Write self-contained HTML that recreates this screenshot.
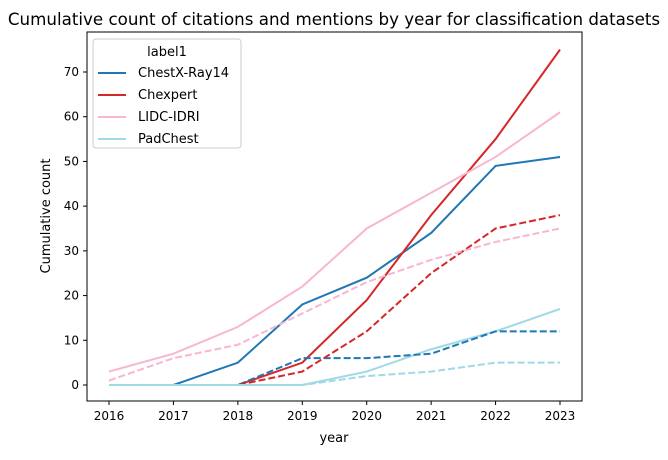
<!DOCTYPE html>
<html><head><meta charset="utf-8"><style>
body{margin:0;background:#fff;font-family:"Liberation Sans","DejaVu Sans",sans-serif}
svg text{font-family:"DejaVu Sans","Liberation Sans",sans-serif}
</style></head><body>
<svg id="c" width="668" height="455">
<text x="334" y="25" text-anchor="middle" font-size="16.7">Cumulative count of citations and mentions by year for classification datasets</text>
<rect x="87" y="32" width="495" height="369" fill="none" stroke="#000" stroke-width="1"/>
<g id="ax"></g><g id="lines"></g>
<text x="334" y="442" text-anchor="middle" font-size="13">year</text>
<text transform="translate(50,216) rotate(-90)" text-anchor="middle" font-size="13">Cumulative count</text>
<g>
<rect x="93" y="39" width="148" height="109" rx="3" fill="#fff" stroke="#ccc"/>
<text x="167" y="56" text-anchor="middle" font-size="13">label1</text>
<g id="leg"></g></g>
</svg>
<script>
const years=[2016,2017,2018,2019,2020,2021,2022,2023];
const yTicks=[0,10,20,30,40,50,60,70];
const names=["ChestX-Ray14","Chexpert","LIDC-IDRI","PadChest"];
const colors=["#1f77b4","#d62728","#f7b6d2","#9edae5"];
const solidChestX=[0,0,5,18,24,34,49,51];
const dashChestX=[0,0,0,6,6,7,12,12];
const solidChexpert=[0,0,0,5,19,38,55,75];
const dashChexpert=[0,0,0,3,12,25,35,38];
const solidLIDC=[3,7,13,22,35,43,51,61];
const dashLIDC=[1,6,9,16,23,28,32,35];
const solidPad=[0,0,0,0,3,8,12,17];
const dashPad=[0,0,0,0,2,3,5,5];
const NS="http://www.w3.org/2000/svg";
const X=y=>109+(y-2016)*(560-109)/7;
const Y=v=>385-v*(385-72)/70;
function mk(t,a,p){const e=document.createElementNS(NS,t);for(const k in a)e.setAttribute(k,a[k]);p.appendChild(e);return e;}
const ax=document.getElementById('ax');
years.forEach(yr=>{mk('line',{x1:X(yr),x2:X(yr),y1:401,y2:405,stroke:'#000'},ax);
const t=mk('text',{x:X(yr),y:420,'text-anchor':'middle','font-size':12},ax);t.textContent=yr;

});
yTicks.forEach(v=>{mk('line',{x1:83,x2:87,y1:Y(v),y2:Y(v),stroke:'#000'},ax);
const t=mk('text',{x:79,y:Y(v)+4,'text-anchor':'end','font-size':12},ax);t.textContent=v;

});
const series=[[solidChestX,0,false],[solidChexpert,1,false],[solidLIDC,2,false],[solidPad,3,false],[dashChestX,0,true],[dashChexpert,1,true],[dashLIDC,2,true],[dashPad,3,true]];
const lg=document.getElementById('lines');
series.forEach(([d,i,dash])=>{const p=mk('polyline',{points:d.map((v,j)=>X(years[j])+','+Y(v)).join(' '),fill:'none',stroke:colors[i],'stroke-width':2},lg);
if(dash)p.setAttribute('stroke-dasharray','7,3');

});
const leg=document.getElementById('leg');
names.forEach((n,i)=>{const y=73+i*22;mk('line',{x1:98,x2:126,y1:y,y2:y,stroke:colors[i],'stroke-width':2},leg);
const t=mk('text',{x:138,y:y+4,'font-size':13},leg);t.textContent=n;

});
</script>
</body></html>
